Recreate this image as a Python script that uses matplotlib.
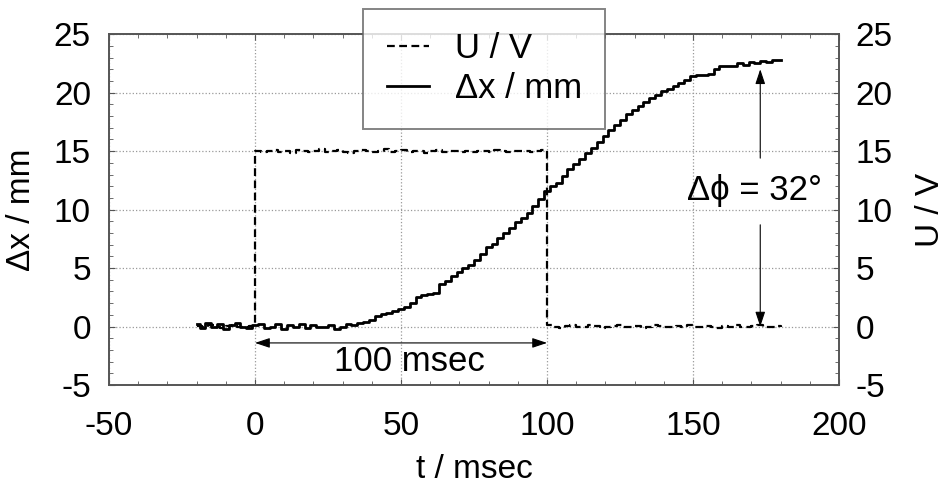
import numpy as np
import matplotlib
matplotlib.use("Agg")
import matplotlib.pyplot as plt
from matplotlib.ticker import MultipleLocator

plt.rcParams['font.family'] = ['Liberation Sans', 'DejaVu Sans']
plt.rcParams['axes.unicode_minus'] = False

# sampling every 2 msec from -20 to 180
t = np.arange(-20, 181, 2)

# coil voltage U / V (pulse from 0 to 100 msec)
u_volt = [
    0.05, -0.05, 0.1, 0.0, -0.1, 0.05, 0.1, -0.05, 0.0, 0.05,
    15.0, 14.9, 15.05, 15.1, 14.95, 15.0, 14.85, 15.1, 15.0, 14.9,
    15.05, 15.15, 14.9, 15.0, 15.1, 14.95, 14.85, 15.0, 15.1, 15.05,
    14.9, 15.0, 15.15, 14.95, 15.0, 15.1, 14.9, 15.05, 15.0, 14.85,
    15.05, 15.1, 14.95, 15.0, 15.0, 14.9, 15.05, 14.95, 15.0, 15.05,
    14.9, 15.1, 15.0, 14.95, 15.0, 15.05, 15.0, 14.95, 15.0, 15.1,
    0.1, 0.0, -0.1, 0.05, 0.1, -0.05, 0.0, 0.1, 0.05, -0.1,
    0.0, 0.05, 0.1, -0.05, 0.0, 0.05, -0.1, 0.0, 0.1, 0.05,
    0.0, -0.05, 0.05, 0.0, 0.1, -0.05, 0.0, 0.05, 0.0, -0.1,
    0.05, 0.0, 0.1, -0.05, 0.0, 0.05, 0.1, -0.05, 0.0, 0.05,
    0.0,
]

# armature displacement dx / mm
dx_mm = [
    0.2, -0.1, 0.3, 0.0, 0.2, -0.2, 0.1, 0.3, 0.0, -0.1,
    0.1, 0.2, -0.1, 0.0, 0.2, -0.2, 0.1, 0.0, 0.2, -0.1,
    0.1, 0.0, 0.0, 0.1, -0.2, 0.0, 0.2, 0.1,
    0.3, 0.4, 0.6, 0.9, 1.1, 1.2, 1.3, 1.5, 1.7, 2.0,
    2.5, 2.7, 2.8, 2.9, 3.6, 3.9, 4.3, 4.7, 5.0, 5.3,
    5.7, 6.2, 6.8, 7.1, 7.6, 8.0, 8.4, 8.9, 9.3, 9.7,
    10.3, 10.9, 11.6, 12.0, 12.3, 12.9, 13.5, 13.9, 14.3, 14.8,
    15.3, 15.8, 16.3, 16.8, 17.2, 17.7, 18.2, 18.5, 18.9, 19.2,
    19.5, 19.8, 20.1, 20.3, 20.6, 20.8, 21.1, 21.4, 21.5, 21.5,
    21.6, 22.0, 22.3, 22.3, 22.3, 22.5, 22.4, 22.6, 22.5, 22.7,
    22.6, 22.8, 22.8,
]

fs = 24
fs_big = 25
spine_col = '#555555'

fig = plt.figure(figsize=(9.46, 4.88), dpi=100)
ax = fig.add_axes([0.1152, 0.211, 0.7718, 0.719])

ax.plot(t, u_volt, color='black', lw=1.6, ls=(0, (3.5, 2)),
        drawstyle='steps-post', label='U / V')
ax.plot(t, dx_mm, color='black', lw=2.0, drawstyle='steps-mid',
        label='Δx / mm')

ax.set_xlim(-50, 200)
ax.set_ylim(-5, 25)
ax.xaxis.set_major_locator(MultipleLocator(50))
ax.xaxis.set_minor_locator(MultipleLocator(10))
ax.yaxis.set_major_locator(MultipleLocator(5))
ax.yaxis.set_minor_locator(MultipleLocator(1))
ax.grid(True, which='major', color='#999999', ls=':', lw=0.9)
ax.tick_params(which='both', direction='in', top=True, labelsize=fs,
               color=spine_col)
ax.tick_params(axis='x', pad=19)
ax.tick_params(axis='y', pad=13)
ax.tick_params(which='major', length=4)
ax.tick_params(which='minor', length=3)
for s in ax.spines.values():
    s.set_color(spine_col)
    s.set_linewidth(1.2)

ax.set_xlabel('t / msec', fontsize=fs, labelpad=8)
ax.set_ylabel('Δx / mm', fontsize=fs, labelpad=12)

ax2 = ax.twinx()
ax2.set_ylim(-5, 25)
ax2.yaxis.set_major_locator(MultipleLocator(5))
ax2.yaxis.set_minor_locator(MultipleLocator(1))
ax2.tick_params(which='both', direction='in', labelsize=fs, pad=12,
                color=spine_col)
ax2.tick_params(which='major', length=4)
ax2.tick_params(which='minor', length=3)
ax2.set_ylabel('U / V', fontsize=fs, labelpad=16)
for s in ax2.spines.values():
    s.set_color(spine_col)
    s.set_linewidth(1.2)

# pulse length arrow
head = dict(color='black', lw=0.8, shrinkA=0, shrinkB=0)
ax.annotate('', xy=(0, -1.4), xytext=(100, -1.4),
            arrowprops=dict(arrowstyle='<|-|>,head_length=0.9,head_width=0.3', **head))
ax.text(53, -3.0, '100 msec', fontsize=fs_big, ha='center', va='center')

# phase lag arrows
ax.annotate('', xy=(173, 22.0), xytext=(173, 14.4),
            arrowprops=dict(arrowstyle='-|>,head_length=0.9,head_width=0.3', **head))
ax.annotate('', xy=(173, 0.0), xytext=(173, 8.7),
            arrowprops=dict(arrowstyle='-|>,head_length=0.9,head_width=0.3', **head))
ax.text(171, 11.6, 'Δϕ = 32°', fontsize=fs_big, ha='center', va='center')

h, l = ax.get_legend_handles_labels()
leg = fig.legend(h, l, loc='upper left', bbox_to_anchor=(0.384, 0.982),
                 fontsize=fs_big, frameon=True, fancybox=False,
                 edgecolor='#666666', handlelength=1.2, handletextpad=0.75,
                 labelspacing=0.2, borderpad=0.68, borderaxespad=0)
leg.get_frame().set_linewidth(1.4)

fig.savefig('out.png', dpi=100)
